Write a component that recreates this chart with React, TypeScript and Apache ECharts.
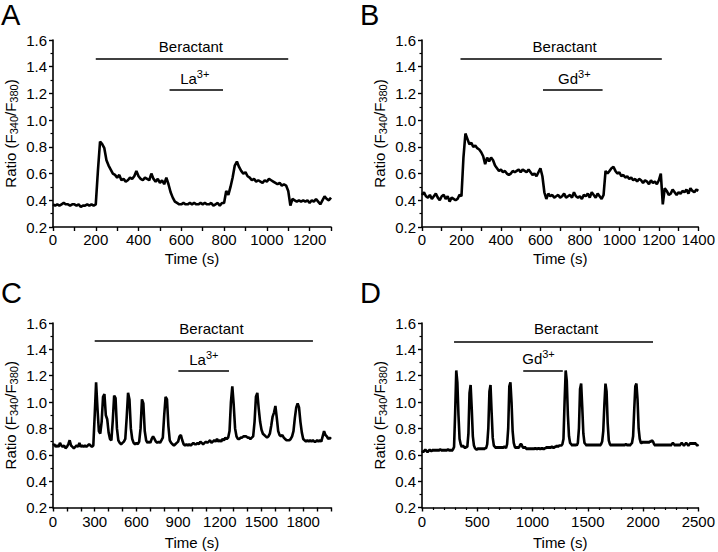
import React, { useEffect, useRef } from "react";
import * as echarts from "echarts";

const STEP = 10; // seconds between samples

const A_RATIO = [
  0.37,0.36,0.37,0.36,0.37,0.38,0.37,0.37,0.36,0.37,
  0.37,0.36,0.37,0.35,0.36,0.36,0.37,0.36,0.37,0.36,
  0.37,0.62,0.84,0.82,0.79,0.70,0.66,0.63,0.60,0.59,
  0.57,0.59,0.55,0.56,0.54,0.55,0.57,0.56,0.58,0.62,
  0.58,0.56,0.55,0.57,0.56,0.55,0.60,0.56,0.54,0.56,
  0.53,0.55,0.52,0.57,0.52,0.46,0.42,0.39,0.38,0.37,
  0.37,0.38,0.37,0.37,0.38,0.37,0.38,0.37,0.37,0.38,
  0.37,0.38,0.37,0.37,0.38,0.36,0.37,0.38,0.36,0.38,
  0.38,0.47,0.44,0.50,0.57,0.66,0.69,0.65,0.62,0.60,
  0.61,0.58,0.57,0.55,0.56,0.54,0.55,0.54,0.53,0.55,
  0.54,0.56,0.55,0.54,0.53,0.52,0.53,0.51,0.52,0.51,
  0.47,0.36,0.41,0.40,0.39,0.40,0.39,0.40,0.39,0.40,
  0.38,0.40,0.39,0.41,0.39,0.37,0.40,0.43,0.41,0.40,
  0.42,
];

const B_RATIO = [
  0.44,0.46,0.43,0.42,0.44,0.41,0.43,0.45,0.42,0.40,
  0.43,0.44,0.41,0.43,0.39,0.42,0.41,0.40,0.41,0.44,
  0.43,0.72,0.90,0.86,0.82,0.83,0.80,0.81,0.79,0.78,
  0.76,0.73,0.67,0.72,0.69,0.72,0.70,0.66,0.64,0.62,
  0.63,0.61,0.62,0.60,0.59,0.60,0.62,0.61,0.62,0.63,
  0.61,0.63,0.62,0.61,0.63,0.61,0.59,0.60,0.58,0.61,
  0.64,0.58,0.46,0.41,0.45,0.43,0.44,0.42,0.43,0.44,
  0.42,0.43,0.45,0.42,0.43,0.44,0.42,0.46,0.43,0.42,
  0.43,0.41,0.44,0.43,0.45,0.42,0.46,0.44,0.42,0.45,
  0.43,0.41,0.44,0.62,0.60,0.62,0.64,0.65,0.62,0.60,
  0.61,0.58,0.59,0.57,0.58,0.56,0.57,0.55,0.56,0.54,
  0.56,0.55,0.53,0.55,0.54,0.52,0.55,0.53,0.54,0.52,
  0.55,0.60,0.37,0.49,0.47,0.44,0.45,0.48,0.46,0.44,
  0.46,0.45,0.47,0.46,0.48,0.45,0.49,0.47,0.46,0.48,
  0.47,
];

const C_RATIO = [
  0.67,0.68,0.66,0.67,0.66,0.69,0.67,0.66,0.67,0.65,
  0.66,0.68,0.71,0.67,0.66,0.65,0.66,0.67,0.66,0.69,
  0.66,0.67,0.66,0.67,0.66,0.67,0.68,0.67,0.66,0.67,
  0.90,1.15,0.95,0.78,0.76,0.85,1.04,1.06,0.90,0.87,
  0.77,0.72,0.71,0.86,1.05,1.03,0.80,0.71,0.69,0.68,
  0.69,0.70,0.72,0.88,1.07,1.02,0.80,0.72,0.69,0.68,
  0.69,0.68,0.70,0.80,1.02,0.99,0.78,0.71,0.69,0.70,
  0.69,0.72,0.74,0.72,0.70,0.69,0.70,0.69,0.71,0.73,
  0.90,1.04,1.02,0.82,0.71,0.69,0.68,0.67,0.68,0.69,
  0.70,0.74,0.75,0.71,0.68,0.67,0.68,0.67,0.68,0.67,
  0.68,0.69,0.68,0.68,0.69,0.68,0.70,0.69,0.68,0.69,
  0.70,0.69,0.70,0.71,0.69,0.70,0.71,0.70,0.72,0.70,
  0.71,0.70,0.72,0.71,0.73,0.72,0.73,0.78,1.00,1.12,
  0.98,0.80,0.74,0.72,0.72,0.73,0.73,0.74,0.74,0.74,
  0.73,0.73,0.72,0.73,0.74,0.85,1.04,1.07,0.95,0.85,
  0.79,0.76,0.75,0.74,0.73,0.74,0.76,0.82,0.89,0.92,
  0.97,0.88,0.78,0.75,0.74,0.75,0.73,0.72,0.71,0.71,
  0.71,0.72,0.74,0.78,0.88,0.96,0.99,0.96,0.85,0.77,
  0.72,0.71,0.70,0.71,0.70,0.71,0.70,0.71,0.70,0.70,
  0.71,0.70,0.71,0.70,0.74,0.78,0.75,0.74,0.72,0.73,
  0.72,
];

const D_RATIO = [
  0.63,0.62,0.63,0.64,0.63,0.62,0.63,0.64,0.63,0.63,
  0.64,0.63,0.64,0.63,0.64,0.63,0.64,0.64,0.63,0.64,
  0.63,0.64,0.63,0.64,0.64,0.63,0.64,0.63,0.64,0.66,
  0.92,1.24,1.15,0.90,0.72,0.68,0.66,0.67,0.66,0.65,
  0.66,0.66,0.76,1.07,1.13,0.95,0.74,0.67,0.65,0.64,
  0.64,0.65,0.64,0.65,0.64,0.65,0.64,0.65,0.65,0.68,
  0.80,1.08,1.13,0.92,0.73,0.67,0.66,0.65,0.66,0.65,
  0.66,0.65,0.66,0.65,0.66,0.66,0.65,0.68,0.80,1.12,
  1.15,1.00,0.78,0.69,0.66,0.65,0.66,0.65,0.66,0.68,
  0.68,0.66,0.65,0.66,0.65,0.64,0.65,0.64,0.65,0.64,
  0.65,0.64,0.65,0.65,0.64,0.65,0.65,0.64,0.65,0.65,
  0.64,0.65,0.65,0.66,0.65,0.66,0.65,0.66,0.66,0.65,
  0.66,0.66,0.67,0.66,0.67,0.67,0.67,0.68,0.72,1.00,
  1.24,1.16,0.90,0.74,0.69,0.68,0.67,0.68,0.67,0.68,
  0.67,0.69,0.80,1.10,1.14,0.96,0.76,0.69,0.68,0.67,
  0.68,0.67,0.68,0.67,0.68,0.67,0.68,0.67,0.68,0.67,
  0.68,0.67,0.68,0.70,0.78,0.98,1.14,1.08,0.84,0.71,
  0.68,0.67,0.68,0.67,0.68,0.67,0.68,0.67,0.68,0.67,
  0.68,0.67,0.68,0.67,0.68,0.68,0.67,0.68,0.67,0.68,
  0.69,0.74,0.94,1.12,1.14,1.02,0.80,0.72,0.69,0.69,
  0.70,0.69,0.70,0.69,0.70,0.69,0.70,0.70,0.71,0.70,
  0.68,0.67,0.68,0.67,0.68,0.67,0.68,0.67,0.68,0.67,
  0.68,0.67,0.68,0.67,0.68,0.67,0.68,0.69,0.68,0.67,
  0.68,0.67,0.68,0.67,0.68,0.69,0.68,0.67,0.68,0.69,
  0.68,0.67,0.68,0.69,0.68,0.69,0.68,0.69,0.68,0.67,
  0.68,
];

const PANEL_LETTERS = ["A", "B", "C", "D"];
const X_MAX = [1300, 1400, 2000, 2500];
const X_LABEL_EVERY = [200, 200, 300, 500];
const BERACTANT_RANGE = [[200, 1100], [195, 1215], [300, 1870], [290, 2090]];
const ION_RANGE = [[545, 795], [613, 915], [902, 1266], [916, 1274]];
const ION_NAME = ["La", "Gd", "La", "Gd"];
const BAR_LEVEL = [[1.46, 1.227], [1.46, 1.23], [1.465, 1.235], [1.46, 1.24]];
const BERACTANT_TEXT_AT = [[645, 1.551], [723, 1.551], [1140, 1.556], [1303, 1.556]];
const ION_TEXT_AT = [[663, 1.315], [772, 1.31], [1085, 1.321], [1054, 1.331]];
const Y_MIN = 0.2;
const Y_MAX = 1.6;

const FONT = "'Liberation Sans', Arial, Helvetica, sans-serif";
const SERIES = [A_RATIO, B_RATIO, C_RATIO, D_RATIO];

const GRIDS = [
  { left: 52, top: 40, width: 279, height: 187 },
  { left: 422, top: 40, width: 280, height: 187 },
  { left: 52, top: 323, width: 279, height: 184.5 },
  { left: 422, top: 323, width: 280, height: 184.5 },
];

export default function App() {
  const ref = useRef<HTMLDivElement>(null);
  useEffect(() => {
    if (!ref.current) return;
    const chart = echarts.init(ref.current, undefined, { renderer: "svg" });
    const axisLine = { lineStyle: { color: "#000", width: 1.6 } };
    const xAxes = X_MAX.map((max, i) => {
      const isD = i === 3;
      const bottom = i >= 2;
      return {
        type: "value",
        gridIndex: i,
        min: 0,
        max,
        interval: isD ? 500 : 100,
        axisLine,
        axisTick: { show: true, inside: false, length: 4, lineStyle: { color: "#000", width: 1.4 } },
        minorTick: isD
          ? { show: true, splitNumber: 5, length: 2.5, lineStyle: { color: "#000", width: 1.2 } }
          : { show: false },
        splitLine: { show: false },
        minorSplitLine: { show: false },
        axisLabel: {
          color: "#000",
          fontFamily: FONT,
          fontSize: 15,
          margin: bottom ? 6 : 5,
          showMinLabel: true,
          showMaxLabel: true,
          formatter: (v: number) =>
            Math.round(v) % X_LABEL_EVERY[i] === 0 && !(i === 2 && v > 1900) ? String(Math.round(v)) : "",
        },
        name: "Time (s)",
        nameLocation: "middle",
        nameGap: bottom ? 27 : 24,
        nameTextStyle: { color: "#000", fontFamily: FONT, fontSize: 15 },
      };
    });
    const yAxes = X_MAX.map((_, i) => ({
      type: "value",
      gridIndex: i,
      min: Y_MIN,
      max: Y_MAX,
      interval: 0.2,
      axisLine: { show: true, ...axisLine },
      axisTick: { show: true, inside: false, length: 4, lineStyle: { color: "#000", width: 1.4 } },
      minorTick: { show: true, splitNumber: 2, length: 2.5, lineStyle: { color: "#000", width: 1.2 } },
      splitLine: { show: false },
      minorSplitLine: { show: false },
      axisLabel: {
        color: "#000",
        fontFamily: FONT,
        fontSize: 15,
        margin: 6,
        formatter: (v: number) => v.toFixed(1),
      },
      name: "{a|Ratio (F}{s|340}{a|/F}{s|380}{a|)}",
      nameLocation: "middle",
      nameRotate: 90,
      nameGap: 34,
      nameTextStyle: {
        color: "#000",
        fontFamily: FONT,
        fontSize: 15,
        rich: {
          a: { color: "#000", fontFamily: FONT, fontSize: 15, lineHeight: 18, verticalAlign: "middle" },
          s: { color: "#000", fontFamily: FONT, fontSize: 11, lineHeight: 18, verticalAlign: "middle", padding: [7, 0, 0, 0] },
        },
      },
    }));
    const series = SERIES.map((vals, i) => ({
      type: "line",
      xAxisIndex: i,
      yAxisIndex: i,
      data: vals.map((v, k) => [k * STEP, v]),
      showSymbol: false,
      symbol: "none",
      lineStyle: { color: "#000", width: 2.6 },
      silent: true,
      markLine: {
        silent: true,
        symbol: ["none", "none"],
        label: { show: false },
        lineStyle: { color: "#000", width: 1.6, type: "solid" },
        data: [
          [{ coord: [BERACTANT_RANGE[i][0], BAR_LEVEL[i][0]] }, { coord: [BERACTANT_RANGE[i][1], BAR_LEVEL[i][0]] }],
          [{ coord: [ION_RANGE[i][0], BAR_LEVEL[i][1]] }, { coord: [ION_RANGE[i][1], BAR_LEVEL[i][1]] }],
        ],
      },
    }));
    chart.setOption({
      animation: false,
      backgroundColor: "#fff",
      grid: GRIDS.map((g) => ({ ...g, containLabel: false })),
      xAxis: xAxes,
      yAxis: yAxes,
      series,
    });

    const letterPos = [[1, 0], [360, 0], [1, 278], [360, 278]];
    const graphics: any[] = [];
    PANEL_LETTERS.forEach((L, i) => {
      graphics.push({
        type: "text",
        x: letterPos[i][0],
        y: letterPos[i][1],
        silent: true,
        style: { text: L, fontFamily: FONT, fontSize: 29, fill: "#000", align: "left", verticalAlign: "top" },
      });
      const b = chart.convertToPixel({ gridIndex: i }, BERACTANT_TEXT_AT[i]) as number[];
      graphics.push({
        type: "text",
        x: b[0],
        y: b[1],
        silent: true,
        style: { text: "Beractant", fontFamily: FONT, fontSize: 15, fill: "#000", align: "center", verticalAlign: "middle" },
      });
      const p = chart.convertToPixel({ gridIndex: i }, ION_TEXT_AT[i]) as number[];
      graphics.push({
        type: "text",
        x: p[0],
        y: p[1],
        silent: true,
        style: {
          text: `{a|${ION_NAME[i]}}{u|3+}`,
          fontFamily: FONT,
          fontSize: 15,
          fill: "#000",
          align: "center",
          verticalAlign: "middle",
          rich: {
            a: { fontFamily: FONT, fontSize: 15, fill: "#000", lineHeight: 18, verticalAlign: "middle" },
            u: { fontFamily: FONT, fontSize: 11, fill: "#000", lineHeight: 18, verticalAlign: "middle", padding: [0, 0, 9, 0] },
          },
        },
      });
    });
    chart.setOption({ graphic: graphics });
    return () => chart.dispose();
  }, []);
  return (
    <div
      ref={ref}
      style={{ position: "fixed", left: 0, top: 0, width: 718, height: 552, background: "#fff" }}
    />
  );
}
